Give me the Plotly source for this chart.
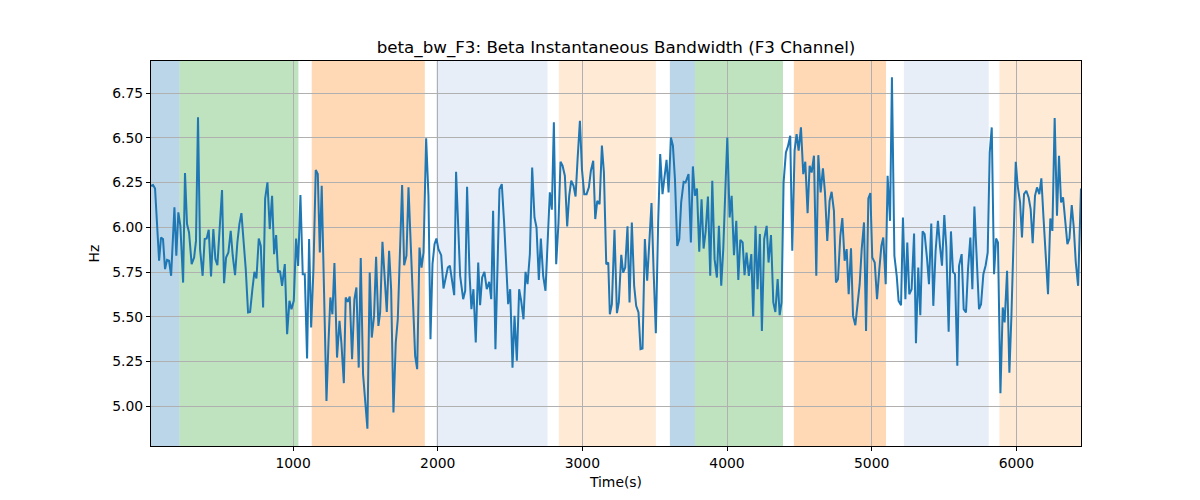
import plotly.graph_objects as go

time_s = [18, 32, 46, 60, 74, 87, 101, 115, 129, 143, 157, 180, 193, 207, 221, 240, 253, 267, 281, 299,
          316, 329, 343, 357, 375, 389, 403, 417, 433, 449, 463, 477, 493, 509, 523, 537, 553, 569, 583, 599,
          615, 629, 643, 659, 673, 689, 703, 719, 733, 747, 763, 777, 793, 807, 823, 839, 855, 869, 883, 896,
          910, 924, 943, 959, 975, 989, 1005, 1021, 1035, 1051, 1067, 1081, 1097, 1111, 1125, 1141, 1157, 1171, 1185, 1198,
          1215, 1231, 1245, 1258, 1272, 1286, 1304, 1321, 1334, 1351, 1364, 1378, 1392, 1408, 1424, 1438, 1454, 1468, 1484, 1498,
          1514, 1530, 1544, 1560, 1574, 1590, 1602, 1618, 1634, 1648, 1664, 1678, 1694, 1710, 1724, 1738, 1754, 1768, 1784, 1798,
          1814, 1830, 1844, 1858, 1874, 1888, 1902, 1920, 1936, 1950, 1964, 1978, 1991, 2005, 2024, 2040, 2056, 2070, 2084, 2100,
          2114, 2127, 2155, 2176, 2190, 2203, 2220, 2233, 2247, 2263, 2280, 2293, 2307, 2323, 2339, 2356, 2370, 2383, 2399, 2427,
          2443, 2459, 2473, 2487, 2501, 2517, 2531, 2547, 2563, 2577, 2593, 2607, 2621, 2637, 2653, 2669, 2683, 2699, 2713, 2729,
          2745, 2761, 2775, 2789, 2803, 2819, 2835, 2849, 2863, 2879, 2895, 2909, 2923, 2939, 2953, 2967, 2983, 2997, 3013, 3029,
          3045, 3059, 3075, 3089, 3103, 3119, 3135, 3149, 3165, 3179, 3190, 3204, 3222, 3239, 3252, 3269, 3282, 3296, 3312, 3326,
          3342, 3358, 3372, 3388, 3402, 3416, 3432, 3448, 3464, 3478, 3492, 3508, 3524, 3538, 3554, 3568, 3582, 3596, 3612, 3626,
          3640, 3656, 3670, 3683, 3700, 3713, 3734, 3750, 3764, 3778, 3792, 3808, 3824, 3838, 3852, 3868, 3884, 3898, 3914, 3930,
          3944, 3960, 3974, 3988, 4002, 4018, 4032, 4048, 4064, 4078, 4092, 4108, 4121, 4135, 4151, 4168, 4181, 4197, 4211, 4227,
          4241, 4257, 4274, 4287, 4304, 4320, 4334, 4350, 4364, 4377, 4391, 4407, 4421, 4437, 4451, 4467, 4481, 4495, 4511, 4527,
          4541, 4557, 4571, 4585, 4601, 4617, 4631, 4647, 4663, 4677, 4693, 4709, 4723, 4739, 4753, 4767, 4783, 4797, 4813, 4827,
          4841, 4857, 4871, 4887, 4901, 4917, 4931, 4947, 4961, 4977, 4991, 5004, 5021, 5037, 5053, 5067, 5080, 5097, 5110, 5127,
          5140, 5157, 5173, 5186, 5203, 5216, 5233, 5246, 5260, 5276, 5293, 5306, 5322, 5336, 5352, 5366, 5382, 5396, 5412, 5426,
          5442, 5458, 5472, 5486, 5502, 5516, 5532, 5548, 5562, 5576, 5592, 5604, 5622, 5636, 5652, 5666, 5682, 5696, 5710, 5726,
          5742, 5756, 5772, 5788, 5802, 5816, 5830, 5846, 5860, 5873, 5890, 5906, 5919, 5936, 5952, 5966, 5979, 5996, 6009, 6026,
          6039, 6053, 6069, 6085, 6099, 6113, 6129, 6143, 6159, 6173, 6187, 6201, 6219, 6235, 6249, 6265, 6281, 6295, 6309, 6323,
          6339, 6353, 6367, 6383, 6397, 6411, 6427, 6447]

beta_bw = [6.232, 6.236, 6.217, 5.990, 5.813, 5.943, 5.934, 5.766, 5.818, 5.813, 5.729, 6.111, 5.841, 6.083, 6.008, 5.691, 6.303, 6.018, 5.971, 5.794,
           5.831, 5.924, 6.614, 5.878, 5.729, 5.934, 5.937, 5.986, 5.725, 5.990, 5.822, 5.788, 6.008, 6.208, 5.688, 5.831, 5.859, 5.980, 5.841, 5.732,
           5.915, 6.018, 6.079, 5.934, 5.766, 5.524, 5.527, 5.654, 5.751, 5.714, 5.937, 5.896, 5.552, 6.160, 6.251, 5.990, 6.176, 5.850, 5.956, 5.747,
           5.757, 5.673, 5.794, 5.403, 5.589, 5.542, 5.589, 5.937, 5.784, 6.180, 5.738, 5.738, 5.267, 5.934, 5.440, 5.766, 6.320, 6.297, 5.859, 6.232,
           5.654, 5.030, 5.356, 5.608, 5.514, 5.800, 5.272, 5.477, 5.356, 5.129, 5.608, 5.583, 5.613, 5.263, 5.598, 5.664, 5.216, 5.828, 5.179, 5.020,
           4.875, 5.747, 5.384, 5.505, 5.835, 5.449, 5.524, 5.919, 5.692, 5.527, 5.869, 5.654, 4.965, 5.356, 5.486, 5.906, 6.236, 5.788, 5.841, 6.223,
           5.915, 5.598, 5.282, 5.207, 5.887, 5.775, 5.859, 6.497, 6.176, 5.375, 5.794, 5.906, 5.937, 5.878, 5.844, 5.658, 5.719, 5.775, 5.785, 5.691,
           5.621, 6.310, 5.729, 5.598, 5.645, 6.226, 5.738, 5.542, 5.654, 5.356, 5.803, 5.565, 5.719, 5.751, 5.654, 5.695, 5.598, 6.092, 5.319, 6.213,
           6.241, 6.027, 5.766, 5.570, 5.654, 5.216, 5.505, 5.254, 5.654, 5.589, 5.486, 5.751, 5.682, 5.850, 6.334, 6.055, 5.999, 5.706, 5.937, 5.729,
           5.645, 5.943, 6.195, 6.098, 6.586, 5.794, 6.027, 6.366, 6.344, 6.288, 6.005, 6.176, 6.260, 6.232, 6.172, 6.381, 6.595, 6.325, 6.185, 6.185,
           6.223, 6.316, 6.372, 6.046, 6.148, 6.129, 6.456, 6.306, 5.794, 5.803, 5.514, 5.570, 5.986, 5.520, 5.580, 5.846, 5.747, 5.775, 6.005, 5.580,
           6.027, 5.673, 5.561, 5.524, 5.319, 5.323, 5.934, 5.701, 5.952, 6.135, 5.766, 5.408, 6.027, 6.409, 6.185, 6.269, 6.377, 6.195, 6.502, 6.456,
           6.269, 5.896, 5.934, 6.139, 6.254, 6.250, 6.297, 5.915, 6.340, 6.176, 6.217, 5.863, 6.157, 5.881, 5.975, 6.172, 5.729, 6.260, 5.822, 5.719,
           6.008, 5.673, 5.878, 6.200, 6.502, 6.055, 6.176, 5.844, 6.036, 5.706, 5.930, 5.915, 5.732, 5.859, 5.729, 5.850, 5.501, 6.008, 5.654, 5.962,
           5.421, 5.934, 6.008, 5.803, 5.956, 5.580, 5.527, 5.710, 5.509, 5.580, 6.251, 6.418, 6.452, 6.511, 5.869, 6.428, 6.521, 6.428, 6.558, 6.297,
           6.366, 6.079, 6.344, 6.306, 6.400, 5.729, 6.403, 6.195, 6.329, 6.195, 5.924, 6.148, 6.198, 6.092, 5.691, 5.710, 5.950, 6.051, 5.813, 5.878,
           5.626, 5.883, 5.505, 5.453, 5.561, 5.682, 5.878, 6.027, 5.421, 6.161, 6.191, 5.831, 5.803, 5.598, 5.766, 5.896, 5.943, 5.682, 6.288, 6.036,
           6.838, 5.841, 5.729, 5.589, 5.565, 6.055, 5.598, 5.915, 5.626, 5.654, 5.965, 5.352, 5.775, 5.509, 5.977, 5.962, 5.831, 5.682, 6.021, 5.561,
           5.869, 6.036, 5.896, 5.785, 6.068, 5.887, 5.416, 5.977, 5.751, 5.738, 5.226, 5.785, 5.850, 5.542, 5.524, 5.766, 5.943, 5.654, 6.116, 5.803,
           5.542, 5.570, 5.738, 5.788, 5.859, 6.418, 6.558, 5.738, 5.937, 5.915, 5.073, 5.552, 5.468, 5.757, 5.188, 5.505, 5.841, 6.366, 6.232, 6.139,
           5.943, 6.185, 6.204, 6.167, 6.101, 5.911, 6.176, 6.223, 6.185, 6.273, 6.064, 5.850, 5.626, 6.049, 5.980, 6.610, 6.064, 6.400, 6.139, 6.167,
           6.046, 5.906, 5.937, 6.124, 5.999, 5.803, 5.673, 6.217]

region_start = [18, 215, 1129, 1989, 2837, 3605, 3778, 4462, 5223, 5883]
region_end = [215, 1037, 1911, 2759, 3508, 3778, 4387, 5099, 5809, 6447]
region_color = ["#1f77b4", "#2ca02c", "#ff7f0e", "#aec7e8", "#ffbb78",
                "#1f77b4", "#2ca02c", "#ff7f0e", "#aec7e8", "#ffbb78"]

fig = go.Figure()

for x0, x1, c in zip(region_start, region_end, region_color):
    fig.add_shape(type="rect", xref="x", yref="paper", x0=x0, x1=x1, y0=0, y1=1,
                  fillcolor=c, opacity=0.3, line=dict(width=0), layer="below")

fig.add_trace(go.Scatter(x=time_s, y=beta_bw, mode="lines",
                         line=dict(color="#1f77b4", width=2), showlegend=False))

axis_common = dict(showline=True, linecolor="black", linewidth=1, mirror=True,
                   ticks="outside", ticklen=4, tickcolor="black", tickwidth=1,
                   showgrid=True, gridcolor="#b0b0b0", gridwidth=1, zeroline=False,
                   tickfont=dict(family="DejaVu Sans", size=13.9, color="black"))

fig.update_layout(
    width=1200, height=500,
    paper_bgcolor="white", plot_bgcolor="white",
    margin=dict(l=143, r=127, t=53, b=62),
    font=dict(family="DejaVu Sans", color="black"),
    title=dict(text="beta_bw_F3: Beta Instantaneous Bandwidth (F3 Channel)",
               x=0.5, xref="paper", xanchor="center",
               y=1 - 39 / 500, yref="container", yanchor="middle",
               font=dict(family="DejaVu Sans", size=16.7, color="black")),
    xaxis=dict(range=[18, 6447], tick0=0, dtick=1000,
               title=dict(text="Time(s)", font=dict(family="DejaVu Sans", size=13.9), standoff=7),
               **axis_common),
    yaxis=dict(range=[4.778, 6.929], tick0=5.0, dtick=0.25, tickformat=".2f",
               title=dict(text="Hz", font=dict(family="DejaVu Sans", size=13.9), standoff=9),
               **axis_common),
)

fig.write_html("out.html")
